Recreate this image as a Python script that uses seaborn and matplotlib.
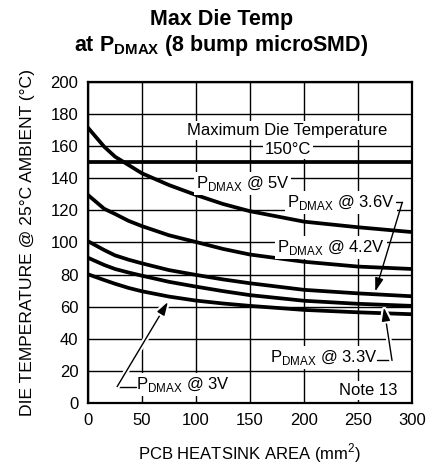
import numpy as np
import pandas as pd
import seaborn as sns
import matplotlib.pyplot as plt
import matplotlib.patheffects as pe

#Values
area = [0, 15, 25, 37.5, 50, 75, 100, 125, 150, 200, 250, 300]
temp_5v = [171.5, 159.7, 153.5, 148.3, 143.1, 135.8, 129.6, 124, 119.5, 113, 109.5, 106.5]
temp_42v = [129.6, 121, 117.8, 113.5, 110.2, 104.5, 100.3, 96, 92.5, 88, 85, 83.5]
temp_36v = [100.8, 95.3, 92, 89.3, 87, 82.8, 79.8, 77, 74.6, 70.5, 68.3, 66.5]
temp_33v = [90.5, 86, 83.5, 81.3, 79.3, 75.5, 72.5, 69.7, 67.2, 63.7, 61.8, 60.5]
temp_3v = [80.2, 76.6, 74.3, 71.7, 69.6, 66.3, 63.8, 62, 60.5, 58, 56.5, 55.3]
max_die_temp = 150

x_ticks = [0, 50, 100, 150, 200, 250, 300]
y_ticks = list(range(0, 201, 20))

#Long-form table for seaborn
n = len(area)
df = pd.DataFrame({
    "area": area * 5,
    "temp": temp_5v + temp_42v + temp_36v + temp_33v + temp_3v,
    "supply": ["5V"] * n + ["4.2V"] * n + ["3.6V"] * n + ["3.3V"] * n + ["3V"] * n,
})

sns.set_style("white")
plt.rcParams["font.family"] = ["Liberation Sans", "DejaVu Sans"]
plt.rcParams["text.color"] = "black"
plt.rcParams["axes.labelcolor"] = "black"
plt.rcParams["xtick.color"] = "black"
plt.rcParams["ytick.color"] = "black"
plt.rcParams["mathtext.fontset"] = "custom"
plt.rcParams["mathtext.rm"] = "Liberation Sans"
plt.rcParams["mathtext.bf"] = "Liberation Sans:bold"

fig = plt.figure(figsize=(4.33, 4.76), dpi=100)
ax = fig.add_axes([0.2032, 0.1534, 0.7483, 0.6743])

sns.lineplot(data=df, x="area", y="temp", units="supply", estimator=None,
             color="black", linewidth=2.7, ax=ax, zorder=2, legend=False)
ax.axhline(max_die_temp, color="black", linewidth=2.7, zorder=2)

ax.set_xlim(0, 300)
ax.set_ylim(0, 200)
ax.set_xticks(x_ticks)
ax.set_yticks(y_ticks)
ax.tick_params(labelsize=12, length=0, pad=7, colors="black")
ax.grid(True, color="black", linewidth=1.0, zorder=0)
ax.set_axisbelow(True)
for s in ax.spines.values():
    s.set_linewidth(1.6)
    s.set_color("black")

ax.set_xlabel("PCB HEATSINK AREA (mm$^2$)", fontsize=12, labelpad=10)
ax.set_ylabel("DIE TEMPERATURE @ 25°C AMBIENT (°C)", fontsize=12.6, labelpad=11)

fig.text(0.512, 0.96, "Max Die Temp", ha="center", va="center",
         fontsize=15.5, fontweight="bold")
fig.text(0.51, 0.905, r"at P$_{\mathbf{DMAX}}$ (8 bump microSMD)", ha="center",
         va="center", fontsize=15.5, fontweight="bold")

box = dict(facecolor="white", edgecolor="none", pad=1.5)
tkw = dict(fontsize=12, ha="center", va="center", zorder=3, bbox=box)
pd_ = r"P$_{\mathrm{DMAX}}$"
ax.text(184, 170, "Maximum Die Temperature", **tkw)
ax.text(185, 158, "150°C", **tkw)
ax.text(143, 137, pd_ + " @ 5V", **tkw)
ax.text(234, 125, pd_ + " @ 3.6V", **tkw)
ax.text(225, 97, pd_ + " @ 4.2V", **tkw)
ax.text(218, 28.5, pd_ + " @ 3.3V", **tkw)
ax.text(88, 11.5, pd_ + " @ 3V", **tkw)
ax.text(259, 7.5, "Note 13", **tkw)

#leader lines with arrows
halo = [pe.withStroke(linewidth=4, foreground="white")]
akw = dict(arrowstyle="-|>,head_length=0.8,head_width=0.25", color="black", lw=1.0,
           shrinkA=0, shrinkB=0)
ax.plot([285, 291], [125, 125], color="black", lw=1.0, zorder=4)
ax.annotate("", xy=(266, 69.5), xytext=(291, 125), arrowprops=akw, zorder=4)
ax.plot([268, 281.5], [26.5, 26.5], color="black", lw=1.0, zorder=4)
ann = ax.annotate("", xy=(274, 59.5), xytext=(281.5, 26.5), arrowprops=akw, zorder=4)
ann.arrow_patch.set_path_effects(halo)
ax.plot([27, 44], [10.2, 10.2], color="black", lw=1.0, zorder=4)
ann = ax.annotate("", xy=(74, 63), xytext=(27, 10.2), arrowprops=akw, zorder=4)
ann.arrow_patch.set_path_effects(halo)

fig.savefig("out.png", dpi=100)
